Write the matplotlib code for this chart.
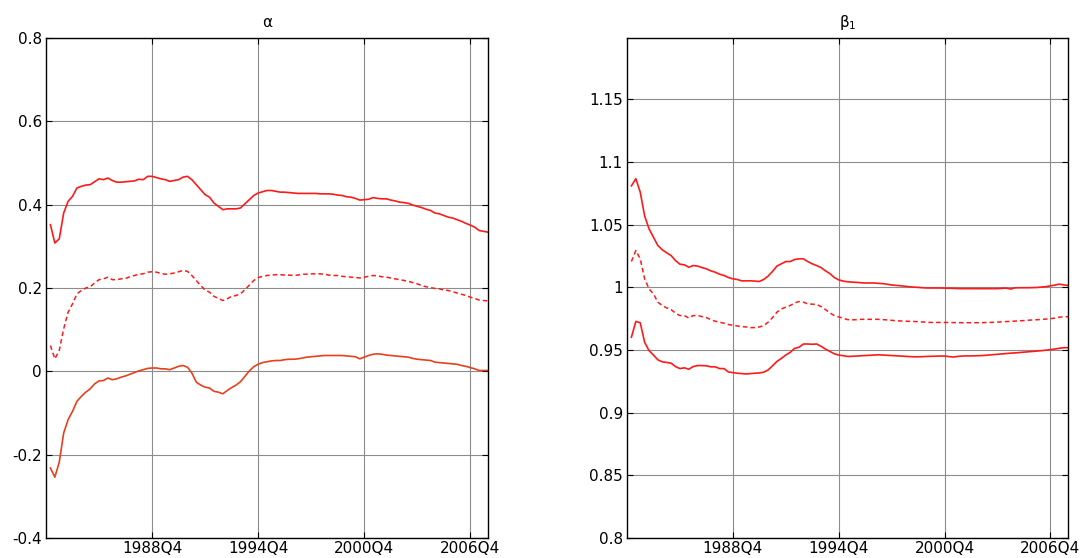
import matplotlib
matplotlib.use("Agg")
import matplotlib.pyplot as plt
import numpy as np

plt.rcParams['font.family'] = ['DejaVu Sans']

# quarters 1983Q1 .. 2007Q4 (index 1..100); index 0 = 1982Q4
quarter_index = list(range(1, 101))
xtick_pos = [24, 48, 72, 96]
xtick_labels = ['1988Q4', '1994Q4', '2000Q4', '2006Q4']

alpha_upper = [0.352, 0.308, 0.318, 0.380, 0.408, 0.420, 0.440, 0.444, 0.447, 0.448,
               0.455, 0.462, 0.460, 0.464, 0.458, 0.454, 0.454, 0.455, 0.456, 0.457,
               0.461, 0.460, 0.468, 0.468, 0.465, 0.462, 0.460, 0.456, 0.458, 0.460,
               0.466, 0.468, 0.460, 0.448, 0.436, 0.424, 0.418, 0.404, 0.396, 0.388,
               0.390, 0.390, 0.390, 0.392, 0.402, 0.412, 0.422, 0.428, 0.431, 0.434,
               0.434, 0.432, 0.430, 0.430, 0.429, 0.428, 0.427, 0.427, 0.427, 0.427,
               0.427, 0.426, 0.426, 0.426, 0.425, 0.423, 0.422, 0.419, 0.418, 0.415,
               0.411, 0.412, 0.413, 0.417, 0.415, 0.414, 0.414, 0.411, 0.409, 0.406,
               0.405, 0.403, 0.399, 0.396, 0.393, 0.389, 0.386, 0.380, 0.378, 0.374,
               0.370, 0.368, 0.364, 0.360, 0.355, 0.351, 0.346, 0.338, 0.336, 0.334]

alpha_mid = [0.062, 0.030, 0.050, 0.102, 0.142, 0.162, 0.186, 0.194, 0.200, 0.203,
             0.212, 0.220, 0.222, 0.226, 0.220, 0.220, 0.222, 0.223, 0.227, 0.230,
             0.233, 0.234, 0.238, 0.239, 0.238, 0.235, 0.233, 0.234, 0.236, 0.239,
             0.242, 0.240, 0.230, 0.218, 0.206, 0.195, 0.190, 0.180, 0.175, 0.170,
             0.174, 0.180, 0.182, 0.186, 0.196, 0.207, 0.218, 0.225, 0.228, 0.230,
             0.231, 0.232, 0.232, 0.231, 0.231, 0.230, 0.231, 0.233, 0.233, 0.234,
             0.234, 0.234, 0.233, 0.231, 0.230, 0.230, 0.228, 0.227, 0.226, 0.225,
             0.224, 0.226, 0.228, 0.230, 0.229, 0.227, 0.226, 0.224, 0.222, 0.220,
             0.218, 0.216, 0.213, 0.210, 0.206, 0.203, 0.201, 0.199, 0.198, 0.195,
             0.194, 0.191, 0.188, 0.185, 0.182, 0.178, 0.175, 0.171, 0.170, 0.169]

alpha_lower = [-0.232, -0.254, -0.218, -0.148, -0.116, -0.096, -0.072, -0.060, -0.050, -0.042,
               -0.030, -0.023, -0.022, -0.016, -0.020, -0.018, -0.014, -0.011, -0.007, -0.003,
               0.001, 0.004, 0.007, 0.008, 0.008, 0.006, 0.006, 0.004, 0.008, 0.012,
               0.014, 0.010, -0.004, -0.026, -0.033, -0.038, -0.040, -0.048, -0.050, -0.054,
               -0.046, -0.039, -0.033, -0.025, -0.012, 0.001, 0.011, 0.017, 0.021, 0.023,
               0.025, 0.026, 0.026, 0.028, 0.029, 0.029, 0.030, 0.032, 0.034, 0.035,
               0.036, 0.037, 0.038, 0.038, 0.038, 0.038, 0.038, 0.037, 0.036, 0.035,
               0.030, 0.034, 0.038, 0.041, 0.042, 0.041, 0.039, 0.038, 0.037, 0.036,
               0.035, 0.034, 0.031, 0.029, 0.028, 0.027, 0.026, 0.022, 0.021, 0.020,
               0.019, 0.018, 0.017, 0.014, 0.012, 0.009, 0.006, 0.002, 0.002, 0.002]

beta_upper = [1.0810, 1.0867, 1.0760, 1.0570, 1.0467, 1.0400, 1.0334, 1.0300, 1.0276, 1.0254,
              1.0214, 1.0185, 1.0180, 1.0161, 1.0174, 1.0170, 1.0158, 1.0148, 1.0132, 1.0121,
              1.0105, 1.0095, 1.0079, 1.0068, 1.0063, 1.0052, 1.0052, 1.0052, 1.0050, 1.0047,
              1.0063, 1.0090, 1.0127, 1.0170, 1.0188, 1.0206, 1.0206, 1.0222, 1.0228, 1.0228,
              1.0206, 1.0188, 1.0174, 1.0158, 1.0132, 1.0110, 1.0079, 1.0060, 1.0050, 1.0045,
              1.0042, 1.0040, 1.0037, 1.0035, 1.0035, 1.0035, 1.0032, 1.0030, 1.0025, 1.0019,
              1.0016, 1.0013, 1.0009, 1.0005, 1.0002, 1.0000, 0.9997, 0.9995, 0.9995, 0.9995,
              0.9995, 0.9994, 0.9993, 0.9992, 0.9991, 0.9990, 0.9990, 0.9990, 0.9990, 0.9990,
              0.9990, 0.9990, 0.9990, 0.9990, 0.9992, 0.9994, 0.9987, 0.9996, 0.9997, 0.9997,
              0.9997, 0.9998, 0.9999, 1.0003, 1.0006, 1.0012, 1.0018, 1.0026, 1.0020, 1.0016]

beta_mid = [1.0206, 1.0294, 1.0228, 1.0068, 0.9988, 0.9948, 0.9882, 0.9855, 0.9836, 0.9823,
            0.9794, 0.9775, 0.9775, 0.9756, 0.9775, 0.9775, 0.9767, 0.9759, 0.9743, 0.9730,
            0.9722, 0.9714, 0.9703, 0.9698, 0.9692, 0.9687, 0.9684, 0.9679, 0.9679, 0.9684,
            0.9695, 0.9722, 0.9759, 0.9802, 0.9828, 0.9842, 0.9855, 0.9876, 0.9887, 0.9882,
            0.9868, 0.9866, 0.9863, 0.9847, 0.9823, 0.9796, 0.9775, 0.9764, 0.9754, 0.9743,
            0.9741, 0.9742, 0.9745, 0.9745, 0.9745, 0.9745, 0.9745, 0.9743, 0.9740, 0.9737,
            0.9734, 0.9732, 0.9730, 0.9729, 0.9728, 0.9726, 0.9724, 0.9722, 0.9720, 0.9720,
            0.9720, 0.9720, 0.9720, 0.9719, 0.9719, 0.9718, 0.9718, 0.9718, 0.9718, 0.9718,
            0.9719, 0.9720, 0.9721, 0.9723, 0.9725, 0.9727, 0.9729, 0.9731, 0.9733, 0.9735,
            0.9738, 0.9740, 0.9742, 0.9744, 0.9747, 0.9750, 0.9755, 0.9762, 0.9765, 0.9766]

beta_lower = [0.9602, 0.9728, 0.9718, 0.9562, 0.9495, 0.9460, 0.9422, 0.9406, 0.9401, 0.9395,
              0.9368, 0.9352, 0.9358, 0.9347, 0.9368, 0.9376, 0.9376, 0.9374, 0.9366, 0.9366,
              0.9352, 0.9352, 0.9325, 0.9320, 0.9315, 0.9312, 0.9309, 0.9312, 0.9315, 0.9317,
              0.9323, 0.9341, 0.9374, 0.9409, 0.9433, 0.9460, 0.9481, 0.9513, 0.9522, 0.9548,
              0.9548, 0.9546, 0.9548, 0.9530, 0.9508, 0.9489, 0.9470, 0.9460, 0.9455, 0.9449,
              0.9450, 0.9452, 0.9454, 0.9456, 0.9458, 0.9460, 0.9462, 0.9460, 0.9458, 0.9456,
              0.9454, 0.9452, 0.9450, 0.9448, 0.9446, 0.9446, 0.9447, 0.9449, 0.9450, 0.9451,
              0.9452, 0.9452, 0.9448, 0.9444, 0.9449, 0.9452, 0.9453, 0.9453, 0.9454, 0.9455,
              0.9457, 0.9460, 0.9463, 0.9466, 0.9469, 0.9472, 0.9475, 0.9477, 0.9480, 0.9483,
              0.9486, 0.9489, 0.9492, 0.9495, 0.9499, 0.9503, 0.9508, 0.9514, 0.9518, 0.9519]

alpha_yticks = [-0.4, -0.2, 0, 0.2, 0.4, 0.6, 0.8]
alpha_ylabels = ['-0.4', '-0.2', '0', '0.2', '0.4', '0.6', '0.8']
beta_yticks = [0.8, 0.85, 0.9, 0.95, 1.0, 1.05, 1.1, 1.15]
beta_ylabels = ['0.8', '0.85', '0.9', '0.95', '1', '1.05', '1.1', '1.15']

W, H = 1083, 558
fig = plt.figure(figsize=(W / 100, H / 100), dpi=100)
ax1 = fig.add_axes([46 / W, 20 / H, 442 / W, 500 / H])
ax2 = fig.add_axes([627 / W, 20 / H, 441 / W, 500 / H])

red = '#ff1a1a'
orange_red = '#e8401c'
dash = (0, (3.0, 2.0))

ax1.plot(quarter_index, alpha_upper, color=red, lw=1.2)
ax1.plot(quarter_index, alpha_mid, color=red, lw=1.1, linestyle=dash)
ax1.plot(quarter_index, alpha_lower, color=orange_red, lw=1.2)

ax2.plot(quarter_index, beta_upper, color=red, lw=1.2)
ax2.plot(quarter_index, beta_mid, color=red, lw=1.1, linestyle=dash)
ax2.plot(quarter_index, beta_lower, color=red, lw=1.2)

for ax, yt, yl, ylim in [(ax1, alpha_yticks, alpha_ylabels, (-0.4, 0.8)),
                         (ax2, beta_yticks, beta_ylabels, (0.8, 1.199))]:
    ax.set_xlim(0, 100)
    ax.set_ylim(*ylim)
    ax.set_xticks(xtick_pos)
    ax.set_xticklabels(xtick_labels)
    ax.set_yticks(yt)
    ax.set_yticklabels(yl)
    ax.grid(True, color='#8c8c8c', lw=0.8)
    ax.set_axisbelow(True)
    ax.tick_params(direction='in', length=4, width=0.8, top=True, right=True,
                   labelsize=11, colors='black', pad=3)
    ax.tick_params(axis='x', pad=2)
    for s in ax.spines.values():
        s.set_linewidth(1.0)
        s.set_color('black')

ax1.set_title('α', fontsize=11, pad=8)
ax2.set_title('β$_1$', fontsize=11, pad=8)

fig.savefig('out.png', dpi=100)
